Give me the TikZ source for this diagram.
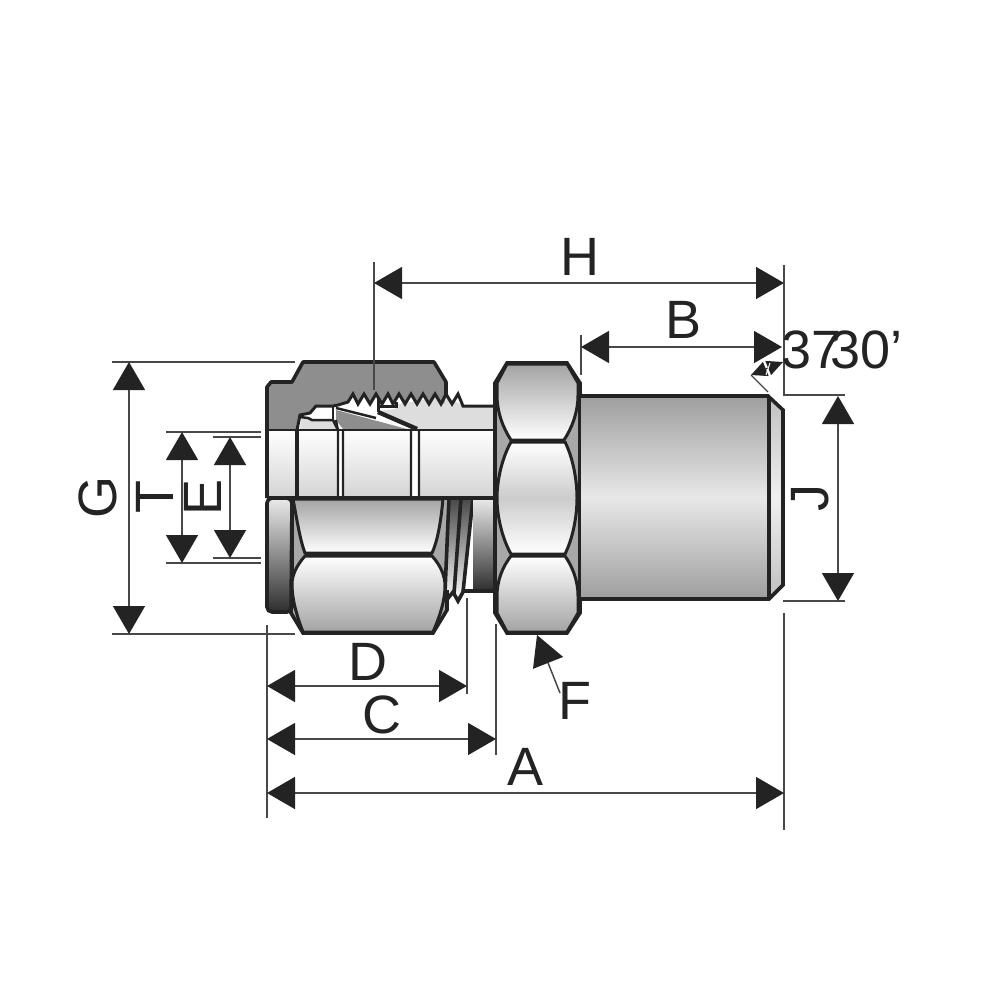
\documentclass[tikz,border=0pt]{standalone}
\usepackage{fontspec}
\setmainfont{Liberation Sans}
\usetikzlibrary{arrows.meta}
\definecolor{dk}{HTML}{232323}
\definecolor{ln}{HTML}{484848}
\definecolor{nutgray}{HTML}{8E8E8E}
\definecolor{bodylight}{HTML}{DCDDDC}
\definecolor{wedge}{HTML}{A8A8A8}
\tikzset{
  x=1pt,y=-1pt,
  outline/.style={draw=dk,line width=3.6pt,line join=miter},
  sect/.style={top color=white,bottom color=black!17},
  facedown/.style={top color=black!36,bottom color=white},
  faceup/.style={top color=white,bottom color=black!36},
  facemid/.style={top color=white,bottom color=white,middle color=black!20},
  darkband/.style={top color=black!8,bottom color=black!82},
  dim/.style={draw=ln,line width=1.5pt,{Triangle[length=28pt,width=32pt,color=dk]}-{Triangle[length=28pt,width=32pt,color=dk]}},
  ext/.style={draw=ln,line width=1.4pt},
  lab/.style={inner sep=0pt,text=dk,font=\fontsize{54}{54}\selectfont},
}
\begin{document}
\begin{tikzpicture}
\useasboundingbox (0,0) rectangle (1000,1000);
% ---- lower hex back of compression nut
\fill[wedge] (292,498) -- (290,613) -- (303,633) -- (433,633) -- (447,610) -- (447,498) -- cycle;
% left cap
\path[darkband,draw=dk,line width=3.6pt,rounded corners=5pt] (267,498) -- (267,612) -- (292,612) -- (292,498) -- cycle;
% threaded section
\path[top color=black!72,bottom color=white] (449,498) -- (473,498) -- (464,592) -- (458,602) -- (453,595) -- (447,597) -- cycle;
\draw[outline] (449,498) -- (445,592) -- (449,597) -- (453,592) -- (458,601) -- (463,592);
\draw[outline] (461,498) -- (454,594);
\draw[outline] (473,498) -- (463,592);
% shaft behind big hex
\path[darkband] (473,498) rectangle (495,591);
\draw[outline] (463,591) -- (495,591);
% nut faces
\path[facedown,draw=dk,line width=3pt] (293,499) .. controls (297,520) and (300,540) .. (305,553) -- (432,553) .. controls (438,540) and (441,520) .. (443,499) -- cycle;
\path[faceup,draw=dk,line width=3pt] (305,556) .. controls (296,566) and (292,576) .. (292,584) .. controls (292,598) and (296,614) .. (303,632) -- (433,632) .. controls (440,616) and (445,600) .. (445,586) .. controls (445,576) and (441,566) .. (432,556) -- cycle;
\draw[outline] (292,498) -- (291,613) -- (303,633) -- (433,633) -- (447,610) -- (447,590);
\draw[dk,line width=4.4pt] (305,555) -- (432,555);
% ---- section view
\path[sect] (267,430) rectangle (495,498);
\fill[white] (338,430) rectangle (343,498);
\fill[white] (411,430) rectangle (419,498);
% nut section, light body and ferrules
\fill[bodylight] (378,411) -- (395,409) -- (398,404) -- (446,396) -- (463,406) -- (495,406) -- (495,430) -- (418,430) -- cycle;
\fill[nutgray] (267,430) -- (267,387) -- (271,382) -- (292,382) -- (303,362) -- (434,362) -- (446,382) -- (446,396)
  -- (444,404) -- (435,394) -- (429,404) -- (423,394) -- (417,404) -- (411,394) -- (405,404) -- (399,394) -- (393,404) -- (388,394) -- (382,404) -- (376,394) -- (370,404) -- (364,394) -- (358,404) -- (353,394) -- (348,402)
  -- (338,405) -- (333,406) -- (316,406) -- (310,413) -- (300,415) -- (297,430) -- cycle;
\fill[white] (316,407) -- (333,407) -- (333,418) -- (312,418) -- (310,414) -- cycle;
\fill[bodylight] (300,430) -- (301,417) -- (308,418) -- (312,420) -- (333,420) -- (338,430) -- cycle;
\fill[nutgray] (336,410) -- (407,429) -- (343,429) -- (336,420) -- cycle;
\fill[white] (338,406) -- (348,403) -- (353,398) -- (358,404) -- (364,398) -- (370,404) -- (376,398) -- (378,412) -- (372,414) -- cycle;
\fill[white] (381,405) -- (385,399) -- (390,405) -- cycle;
% threads and section lines
\draw[dk,line width=3pt,line join=miter] (297,430) -- (300,415) -- (310,413) -- (316,406) -- (333,406) -- (338,405) -- (348,402)
  -- (353,394) -- (358,404) -- (364,394) -- (370,404) -- (376,394) -- (382,404) -- (388,394) -- (393,404) -- (399,394) -- (405,404) -- (411,394) -- (417,404) -- (423,394) -- (429,404) -- (435,394) -- (441,404) -- (446,394) -- (452,404) -- (458,394) -- (463,406) -- (495,406);
\draw[dk,line width=2.5pt] (300,417) -- (308,418) -- (312,420) -- (333,420) -- (338,430);
\draw[dk,line width=2.5pt] (333,406) -- (333,420);
\draw[dk,line width=2.5pt] (336,408) -- (376,418);
\draw[dk,line width=4.4pt] (378,412) -- (417,429);
\draw[dk,line width=3pt] (378,397) -- (378,412) (380,406) -- (396,406) -- (396,402);
\draw[dk,line width=2.2pt] (336,420) -- (338,430) (343,430) -- (343,498) (338,430) -- (338,498) (411,430) -- (411,498) (419,430) -- (419,498);
\draw[outline] (297,430) -- (297,498);
\draw[dk,line width=2.8pt] (267,430) -- (495,430);
\draw[outline] (267,498) -- (495,498);
\draw[outline,line join=round] (267,498) -- (267,387) -- (271,382) -- (292,382) -- (303,362) -- (434,362) -- (446,382) -- (446,396);
% ---- big hex
\fill[wedge] (495,383) -- (507,363) -- (567,363) -- (580,383) -- (580,613) -- (567,633) -- (507,633) -- (495,613) -- cycle;
\path[facedown,draw=dk,line width=3pt] (507,364) -- (567,364) -- (578,383) -- (578,395) .. controls (578,412) and (572,428) .. (564,440) -- (511,440) .. controls (503,428) and (497,412) .. (497,395) -- (497,383) -- cycle;
\path[facemid,draw=dk,line width=3pt] (511,442) -- (565,442) .. controls (573,458) and (577,480) .. (577,498) .. controls (577,516) and (573,538) .. (565,554) -- (511,554) .. controls (502,538) and (497,516) .. (497,498) .. controls (497,480) and (502,458) .. (511,442) -- cycle;
\path[faceup,draw=dk,line width=3pt] (511,556) -- (565,556) .. controls (572,566) and (578,580) .. (578,596) -- (578,613) -- (567,632) -- (507,632) -- (497,613) -- (497,596) .. controls (497,580) and (503,566) .. (511,556) -- cycle;
\draw[outline] (495,383) -- (507,363) -- (567,363) -- (580,383) -- (580,613) -- (567,633) -- (507,633) -- (495,613) -- cycle;
% ---- shaft
\path[top color=black!38,bottom color=black!38,middle color=black!9] (581,396) rectangle (768,599);
\path[top color=black!25,bottom color=black!25,middle color=black!6] (768,396) -- (783,410) -- (783,585) -- (769,599) -- cycle;
\draw[outline] (581,396) -- (768,396) -- (783,410) -- (783,585) -- (769,599) -- (581,599);
\draw[outline] (769,396) -- (769,599);
% ---- dimension coordinates
\coordinate (Atop) at (267,625); \coordinate (Abot) at (267,818);
\coordinate (Rtop) at (784,265); \coordinate (Rmid) at (784,395); \coordinate (Rj) at (845,395);
\coordinate (Rlow) at (784,613); \coordinate (Rbot) at (784,830);
\coordinate (Dtop) at (467,598); \coordinate (Dbot) at (467,694);
\coordinate (Ctop) at (496,624); \coordinate (Cbot) at (496,755);
\coordinate (Htop) at (374,262); \coordinate (Hbot) at (374,390);
\coordinate (Btop) at (581,335); \coordinate (Bbot) at (581,375);
\coordinate (Gt1) at (112,362); \coordinate (Gt2) at (295,362);
\coordinate (Gb1) at (112,634); \coordinate (Gb2) at (295,634);
\coordinate (Tt1) at (166,432); \coordinate (Tt2) at (261,432);
\coordinate (Tb1) at (166,563); \coordinate (Tb2) at (261,563);
\coordinate (Et1) at (213,437); \coordinate (Et2) at (261,437);
\coordinate (Eb1) at (213,558); \coordinate (Eb2) at (261,558);
\coordinate (Jb1) at (783,601); \coordinate (Jb2) at (845,601);
\coordinate (Ang1) at (751,375); \coordinate (Ang2) at (768,392); \coordinate (Ang3) at (783,362);
% extension lines
\draw[ext] (Atop) -- (Abot);
\draw[ext] (Rtop) -- (Rmid) -- (Rj);
\draw[ext] (Rlow) -- (Rbot);
\draw[ext] (Dtop) -- (Dbot);
\draw[ext] (Ctop) -- (Cbot);
\draw[ext] (Htop) -- (Hbot);
\draw[ext] (Btop) -- (Bbot);
\draw[ext] (Gt1) -- (Gt2);
\draw[ext] (Gb1) -- (Gb2);
\draw[ext] (Tt1) -- (Tt2);
\draw[ext] (Tb1) -- (Tb2);
\draw[ext] (Et1) -- (Et2);
\draw[ext] (Eb1) -- (Eb2);
\draw[ext] (Jb1) -- (Jb2);
\draw[ext,line width=1.2pt] (Ang1) -- (Ang2);
% dimension arrows
\draw[dim] (374,283) coordinate (H1) -- (784,283) coordinate (H2);
\draw[dim] (581,347) coordinate (B1) -- (782,347) coordinate (B2);
\draw[dim] (838,396) coordinate (J1) -- (838,601) coordinate (J2);
\draw[dim] (129,362) coordinate (G1) -- (129,634) coordinate (G2);
\draw[dim] (182,432) coordinate (T1) -- (182,563) coordinate (T2);
\draw[dim] (230,437) coordinate (E1) -- (230,558) coordinate (E2);
\draw[dim] (267,686) coordinate (D1) -- (467,686) coordinate (D2);
\draw[dim] (267,739) coordinate (C1) -- (496,739) coordinate (C2);
\draw[dim] (267,793) coordinate (A1) -- (784,793) coordinate (A2);
\coordinate (Ftail) at (560,693); \coordinate (Ftip) at (537,635);
\draw[draw=ln,line width=1.5pt,-{Triangle[length=30pt,width=32pt,color=dk]}] (Ftail) -- (Ftip);
\draw[draw=dk,line width=1.2pt,{Triangle[length=16pt,width=15pt,color=dk]}-{Triangle[length=16pt,width=15pt,color=dk]}] (Ang1) -- (Ang3);
\coordinate (Angw1) at (766,375); \coordinate (Angw2) at (770,363);
\draw[white,line width=1pt] (Angw1) -- (Angw2);
% labels
\node[lab] (labH) at (580,257) {H};
\node[lab] (labB) at (683,320) {B};
\node[lab] (labD) at (368,662) {D};
\node[lab] (labC) at (382,715) {C};
\node[lab] (labA) at (525,767) {A};
\node[lab] (labF) at (575,701) {F};
\node[lab,rotate=90] (labG) at (98,497) {G};
\node[lab,rotate=90] (labT) at (155,497) {T};
\node[lab,rotate=90] (labE) at (203,497) {E};
\node[lab,rotate=90] (labJ) at (810,498) {J};
\node[lab,anchor=base west] (labAng) at (781,368) {37\kern-11pt\rlap{\raisebox{18pt}{\fontsize{20}{20}\selectfont °}}30’};
\end{tikzpicture}
\end{document}
